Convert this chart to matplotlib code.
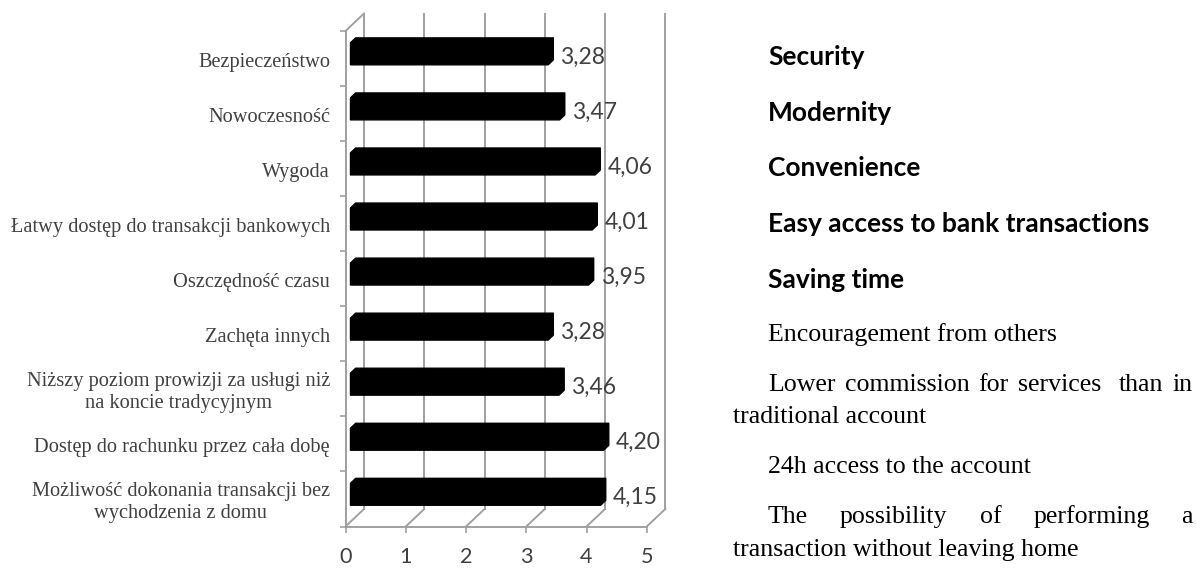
import matplotlib
matplotlib.use("Agg")
import numpy as np
import matplotlib.pyplot as plt
from matplotlib.patches import Polygon
from matplotlib.transforms import offset_copy

# ---------------- data ----------------
categories = [
    "Bezpieczeństwo",
    "Nowoczesność",
    "Wygoda",
    "Łatwy dostęp do transakcji bankowych",
    "Oszczędność czasu",
    "Zachęta innych",
    "Niższy poziom prowizji za usługi niż\nna koncie tradycyjnym",
    "Dostęp do rachunku przez cała dobę",
    "Możliwość dokonania transakcji bez\nwychodzenia z domu",
]
values = [3.28, 3.47, 4.06, 4.01, 3.95, 3.28, 3.46, 4.20, 4.15]
x_ticks = [0, 1, 2, 3, 4, 5]
english_bold = ["Security", "Modernity", "Convenience",
                "Easy access to bank transactions", "Saving time"]
english_plain = [
    ["Encouragement from others"],
    ["Lower commission for services  than in", "traditional account"],
    ["24h access to the account"],
    ["The possibility of performing a", "transaction without leaving home"],
]

# ---------------- style ----------------
W, H, DPI = 1196, 568, 100
GRID = "#a0a0a0"
TXT = "#404040"
SANS = "Lato"
SERIF = "Liberation Serif"

fig = plt.figure(figsize=(W / DPI, H / DPI), dpi=DPI)
fig.patch.set_facecolor("white")
renderer = fig.canvas.get_renderer()


def width_px(s, **kw):
    t = fig.text(0, 0, s, **kw)
    w = t.get_window_extent(renderer=renderer).width
    t.remove()
    return w


def fit(s, target, **kw):
    return 20 * target / width_px(s, fontsize=20, **kw)


sz_val = fit("4,15", 45, family=SANS)
sz_tick = sz_val * 0.95
sz_left = fit("Łatwy dostęp do transakcji bankowych", 318, family=SERIF)
sz_bold = fit("Easy access to bank transactions", 382, family=SANS, weight="bold")
sz_plain = fit("Encouragement from others", 289, family=SERIF)

# ---------------- axes (front plane of the 3-D box) ----------------
x0_px, x5_px = 345.5, 646.8
top_px, bot_px = 31.0, 526.5
ax = fig.add_axes([x0_px / W, 1 - bot_px / H, (x5_px - x0_px) / W, (bot_px - top_px) / H])
n = len(categories)
ax.set_xlim(x_ticks[0], x_ticks[-1])
ax.set_ylim(n - 0.5, -0.5)
ax.patch.set_visible(False)
for s in ("top", "right"):
    ax.spines[s].set_visible(False)
for s in ("left", "bottom"):
    ax.spines[s].set_color(GRID)
    ax.spines[s].set_linewidth(1.4)

px_x = (x5_px - x0_px) / (x_ticks[-1] - x_ticks[0])
px_y = (bot_px - top_px) / n
DX = 18.5 / px_x
DY = -17.5 / px_y

ax.set_xticks(x_ticks)
ax.set_xticklabels([str(t) for t in x_ticks], fontsize=sz_tick, family=SANS, color=TXT)
ax.tick_params(axis="x", length=4.3, width=1.2, color=GRID, pad=10.5)
ax.set_yticks(np.arange(-0.5, n, 1.0))
ax.set_yticklabels([])
ax.tick_params(axis="y", length=4.3, width=1.2, color=GRID)

# floor gridlines and back wall gridlines
for k in x_ticks:
    ax.plot([k, k + DX], [n - 0.5, n - 0.5 + DY], color=GRID, lw=1.4, clip_on=False, zorder=1)
    ax.plot([k + DX, k + DX], [n - 0.5 + DY, -0.5 + DY], color=GRID, lw=1.4, clip_on=False, zorder=1)
# top edge of the side wall
ax.plot([0, DX], [-0.5, -0.5 + DY], color=GRID, lw=1.4, clip_on=False, zorder=1)

# ---------------- 3-D bars ----------------
f1, f2, hh = 0.27, 0.55, 0.2
a1x, a1y = f1 * DX, f1 * DY
a2x, a2y = f2 * DX, f2 * DY
lab_tr = offset_copy(ax.transData, fig=fig, x=7, y=-5, units="dots")
for i, v in enumerate(values):
    pts = [(a1x, i + hh + a1y), (a1x, i - hh + a1y), (a2x, i - hh + a2y),
           (v + a2x, i - hh + a2y), (v + a2x, i + hh + a2y), (v + a1x, i + hh + a1y)]
    ax.add_patch(Polygon(pts, closed=True, fc="black", ec="black", lw=1.0,
                         joinstyle="round", clip_on=False, zorder=3))
    ax.text(v + a2x, i, f"{v:.2f}".replace(".", ","), transform=lab_tr,
            ha="left", va="baseline", fontsize=sz_val, family=SANS, color=TXT, zorder=4)

# ---------------- category labels (left) ----------------
for i, lab in enumerate(categories):
    lines = lab.split("\n")
    m = len(lines)
    w0 = None
    for j, line in enumerate(lines):
        dy = -(8 + 22 * (j - (m - 1) / 2))
        if j == 0:
            tr = offset_copy(ax.transData, fig=fig, x=-15.5, y=dy, units="dots")
            t = ax.text(0, i, line, transform=tr, ha="right", va="baseline",
                        fontsize=sz_left, family=SERIF, color=TXT)
            w0 = t.get_window_extent(renderer=renderer).width
        else:
            tr = offset_copy(ax.transData, fig=fig, x=-15.5 - w0 / 2, y=dy, units="dots")
            ax.text(0, i, line, transform=tr, ha="center", va="baseline",
                    fontsize=sz_left, family=SERIF, color=TXT)

# ---------------- English descriptions (right) ----------------
def fx(px):
    return px / W


def fy(py):
    return 1 - py / H


indent_x, body_x, right_x = 768, 733, 1193
for k, s in enumerate(english_bold):
    fig.text(fx(indent_x), fy(65 + 55.75 * k), s, ha="left", va="baseline",
             fontsize=sz_bold, family=SANS, weight="bold", color="black")

base = 340.7
for para in english_plain:
    for j, line in enumerate(para):
        x_start = indent_x if j == 0 else body_x
        last = j == len(para) - 1
        if last:
            fig.text(fx(x_start), fy(base), line, ha="left", va="baseline",
                     fontsize=sz_plain, family=SERIF, color="black")
        else:
            words = line.split(" ")
            widths = [width_px(w, fontsize=sz_plain, family=SERIF) if w else 0 for w in words]
            gap = (right_x - x_start - sum(widths)) / (len(words) - 1)
            xx = x_start
            for w, ww in zip(words, widths):
                if w:
                    fig.text(fx(xx), fy(base), w, ha="left", va="baseline",
                             fontsize=sz_plain, family=SERIF, color="black")
                xx += ww + gap
        if not last:
            base += 32.5
    base += 50

fig.savefig("out.png", dpi=DPI, facecolor="white")
